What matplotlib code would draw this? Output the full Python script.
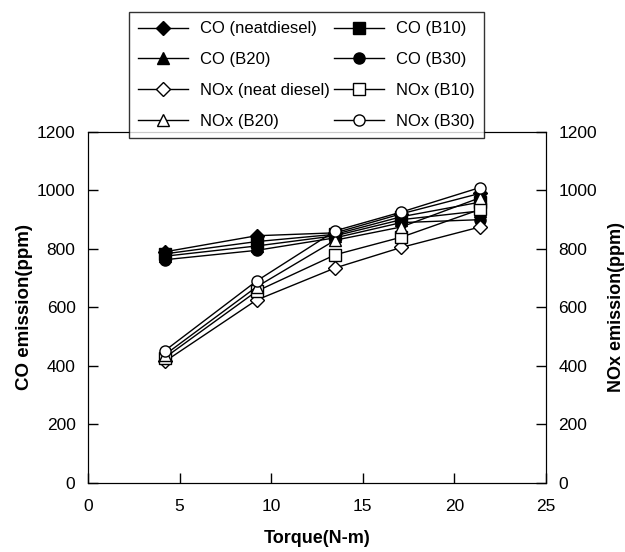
import matplotlib.pyplot as plt
import numpy as np

plt.rcParams['font.family'] = ['Liberation Sans', 'DejaVu Sans']

torque = [4.2, 9.2, 13.5, 17.1, 21.4]

co_neat = [790, 845, 855, 920, 990]
co_b10 = [783, 825, 850, 910, 960]
co_b20 = [775, 810, 845, 900, 930]
co_b30 = [763, 795, 838, 890, 900]

nox_neat = [415, 625, 735, 805, 875]
nox_b10 = [428, 655, 780, 840, 935]
nox_b20 = [438, 670, 830, 875, 975]
nox_b30 = [452, 690, 862, 926, 1010]

fig = plt.figure(figsize=(6.25, 5.52), dpi=100)
ax = fig.add_axes([0.1408, 0.1255, 0.7328, 0.6354])
ax2 = ax.twinx()

kw = dict(color='black', lw=1, mec='black', mew=1)

h_co_neat, = ax.plot(torque, co_neat, marker='D', mfc='black', ms=7, **kw)
h_co_b10, = ax.plot(torque, co_b10, marker='s', mfc='black', ms=8, **kw)
h_co_b20, = ax.plot(torque, co_b20, marker='^', mfc='black', ms=8, **kw)
h_co_b30, = ax.plot(torque, co_b30, marker='o', mfc='black', ms=8, **kw)

h_nox_neat, = ax2.plot(torque, nox_neat, marker='D', mfc='white', ms=7, **kw)
h_nox_b10, = ax2.plot(torque, nox_b10, marker='s', mfc='white', ms=8, **kw)
h_nox_b20, = ax2.plot(torque, nox_b20, marker='^', mfc='white', ms=8, **kw)
h_nox_b30, = ax2.plot(torque, nox_b30, marker='o', mfc='white', ms=8, **kw)

for a in (ax, ax2):
    a.set_xlim(0, 25)
    a.set_ylim(0, 1200)
    a.set_yticks(np.arange(0, 1201, 200))
    a.tick_params(direction='in', length=7, labelsize=12.5, width=1)
ax.set_xticks(np.arange(0, 26, 5))
ax.tick_params(axis='x', pad=12)
ax.tick_params(axis='y', pad=9)
ax2.tick_params(axis='y', pad=9)

ax.set_xlabel('Torque(N-m)', fontsize=13, fontweight='bold', labelpad=11)
ax.set_ylabel('CO emission(ppm)', fontsize=13.5, fontweight='bold', labelpad=3)
ax2.set_ylabel('NOx emission(ppm)', fontsize=13, fontweight='bold', labelpad=8)

handles = [h_co_neat, h_co_b20, h_nox_neat, h_nox_b20,
           h_co_b10, h_co_b30, h_nox_b10, h_nox_b30]
labels = ['CO (neatdiesel)', 'CO (B20)', 'NOx (neat diesel)', 'NOx (B20)',
          'CO (B10)', 'CO (B30)', 'NOx (B10)', 'NOx (B30)']
leg = fig.legend(handles, labels, ncol=2, loc='lower left',
                 bbox_to_anchor=(0.2064, 0.75, 0.568, 0.232), mode='expand',
                 fontsize=12, frameon=True, fancybox=False, handlelength=3.0,
                 borderaxespad=0, borderpad=0.55, labelspacing=0.95,
                 columnspacing=0.4, handletextpad=0.7)
leg.get_frame().set_edgecolor('black')
leg.get_frame().set_linewidth(1)

fig.savefig('out.png', dpi=100)
